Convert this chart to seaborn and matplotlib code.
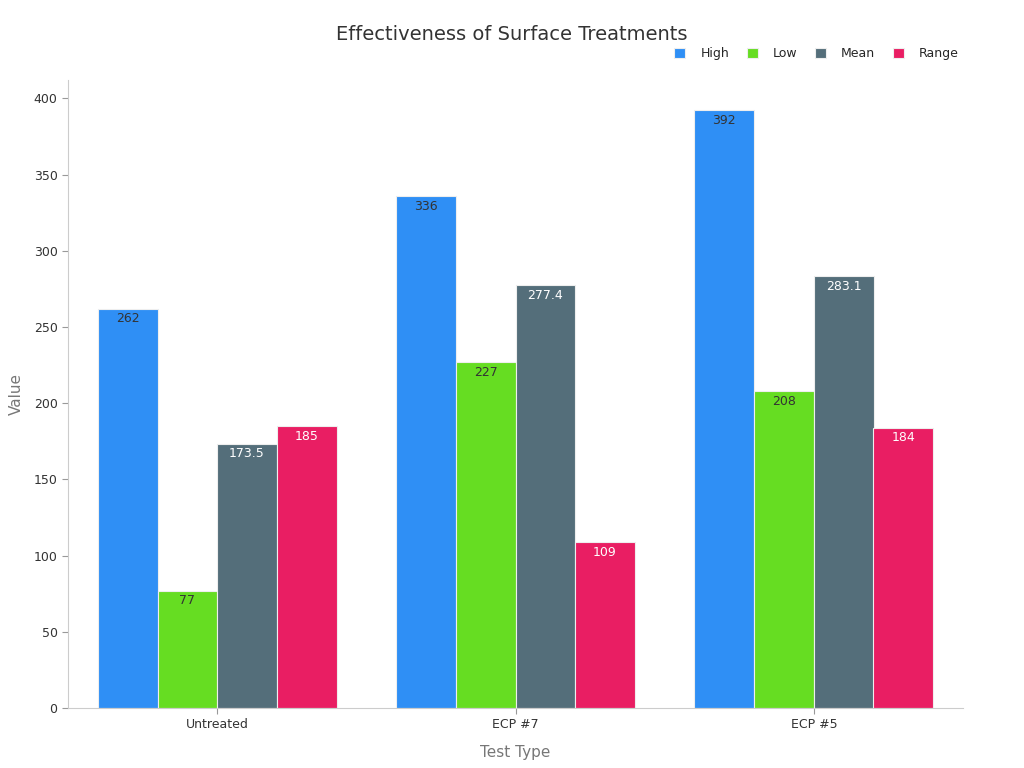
import pandas as pd
import matplotlib.pyplot as plt
import seaborn as sns

# chart data
test_types = ["Untreated", "ECP #7", "ECP #5"]
metrics = ["High", "Low", "Mean", "Range"]
high = [262, 336, 392]
low = [77, 227, 208]
mean = [173.5, 277.4, 283.1]
value_range = [185, 109, 184]

colors = ["#2f8ff5", "#66dd22", "#546e7a", "#e91e63"]
label_colors = ["#333333", "#333333", "#ffffff", "#ffffff"]

rows = []
for m, vals in zip(metrics, [high, low, mean, value_range]):
    for t, v in zip(test_types, vals):
        rows.append({"Test Type": t, "Metric": m, "Value": v})
df = pd.DataFrame(rows)

sns.set_style("white")
plt.rcParams["font.family"] = ["DejaVu Sans"]

fig = plt.figure(figsize=(10.24, 7.68), dpi=100)
ax = fig.add_axes([68 / 1024, 60 / 768, 895 / 1024, 628 / 768])

sns.barplot(
    data=df, x="Test Type", y="Value", hue="Metric",
    order=test_types, hue_order=metrics, palette=colors,
    width=0.8, edgecolor="#eeeeee", linewidth=0.8, saturation=1, ax=ax
)

# value labels just inside top of each bar
for container, lc in zip(ax.containers, label_colors):
    labels = [f"{v:g}" for v in container.datavalues]
    ax.bar_label(container, labels=labels, padding=-12, color=lc, fontsize=9)

ax.set_ylim(0, 412)
ax.set_xlim(-0.5, 2.5)
ax.set_yticks(range(0, 401, 50))
ax.tick_params(axis="both", bottom=True, left=True, labelsize=9,
               labelcolor="#333333", color="#999999", length=4, width=0.8)
for s in ["top", "right"]:
    ax.spines[s].set_visible(False)
for s in ["left", "bottom"]:
    ax.spines[s].set_color("#cccccc")

ax.set_xlabel("Test Type", fontsize=11, color="#777777", labelpad=10)
ax.set_ylabel("Value", fontsize=11, color="#777777", labelpad=7)

fig.suptitle("Effectiveness of Surface Treatments", fontsize=14, color="#333333", x=0.5, y=0.968)

handles, lbls = ax.get_legend_handles_labels()
ax.legend(
    handles, lbls, loc="upper right", bbox_to_anchor=(1.008, 1.07),
    ncol=4, frameon=False, fontsize=9, handlelength=0.9, handleheight=0.9,
    columnspacing=1.4, handletextpad=1.2
)

fig.savefig("out.png", dpi=100)
